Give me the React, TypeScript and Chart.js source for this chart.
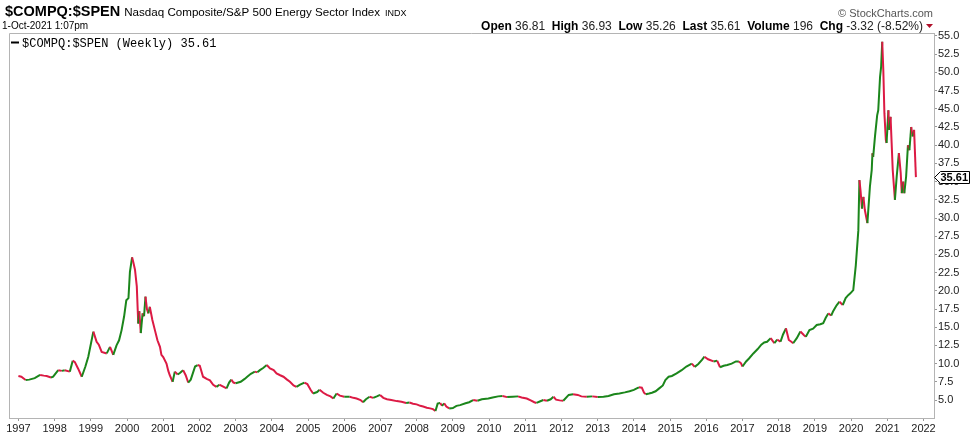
import React, { useEffect, useRef } from "react";
import { Chart, registerables } from "chart.js";

Chart.register(...registerables);

// Weekly close (sampled), decimal year
const dates = [
  1997.0, 1997.08, 1997.2, 1997.3, 1997.45, 1997.6, 1997.7, 1997.78, 1997.9, 1997.96,
  1998.1, 1998.2, 1998.28, 1998.42, 1998.5, 1998.56, 1998.65, 1998.75, 1998.85, 1998.93,
  1999.07, 1999.16, 1999.22, 1999.3, 1999.44, 1999.53, 1999.62, 1999.71, 1999.78, 1999.85, 1999.92, 1999.98,
  2000.04, 2000.08, 2000.14, 2000.18, 2000.22, 2000.27, 2000.31, 2000.34, 2000.38, 2000.43, 2000.47, 2000.51,
  2000.55, 2000.59, 2000.63, 2000.7, 2000.77, 2000.84, 2000.91, 2000.95,
  2001.0, 2001.09, 2001.14, 2001.18, 2001.26, 2001.32, 2001.4, 2001.46, 2001.55, 2001.62, 2001.69, 2001.76, 2001.88, 2001.95,
  2002.01, 2002.1, 2002.2, 2002.29, 2002.38, 2002.47, 2002.55, 2002.63, 2002.75, 2002.82, 2002.88, 2002.94,
  2003.0, 2003.14, 2003.25, 2003.32, 2003.42, 2003.53, 2003.6, 2003.67, 2003.76, 2003.86, 2003.95,
  2004.05, 2004.13, 2004.23, 2004.32, 2004.42, 2004.5, 2004.6, 2004.68, 2004.78, 2004.9, 2004.98,
  2005.07, 2005.14, 2005.25, 2005.32, 2005.42, 2005.52, 2005.62, 2005.7, 2005.79, 2005.88,
  2006.0, 2006.15, 2006.25, 2006.34, 2006.45, 2006.52, 2006.6, 2006.7, 2006.8, 2006.9, 2006.99,
  2007.08, 2007.18, 2007.3, 2007.45, 2007.58, 2007.71, 2007.8, 2007.9,
  2008.0, 2008.1, 2008.18, 2008.28, 2008.37, 2008.45, 2008.52, 2008.58, 2008.65, 2008.7, 2008.76, 2008.82, 2008.9,
  2009.0, 2009.1, 2009.2, 2009.35, 2009.45, 2009.56, 2009.68, 2009.8, 2009.98,
  2010.1, 2010.25, 2010.37, 2010.5, 2010.65, 2010.8, 2010.9,
  2011.04, 2011.15, 2011.25, 2011.31, 2011.4, 2011.5, 2011.6, 2011.7, 2011.78, 2011.85, 2011.95,
  2012.05, 2012.2, 2012.32, 2012.45, 2012.55, 2012.7, 2012.85,
  2013.0, 2013.16, 2013.3, 2013.45, 2013.6, 2013.75, 2013.88,
  2014.0, 2014.08, 2014.14, 2014.22, 2014.28, 2014.33, 2014.42, 2014.5, 2014.6, 2014.7, 2014.8, 2014.87, 2014.96,
  2015.05, 2015.18, 2015.32, 2015.45, 2015.6, 2015.68, 2015.78, 2015.88, 2015.95,
  2016.05, 2016.2, 2016.3, 2016.38, 2016.48, 2016.58, 2016.7, 2016.82, 2016.9, 2016.96,
  2017.0, 2017.1, 2017.18, 2017.3, 2017.42, 2017.52, 2017.6, 2017.68, 2017.78, 2017.88, 2017.96,
  2018.05, 2018.12, 2018.2, 2018.28, 2018.35, 2018.4, 2018.5, 2018.6, 2018.7, 2018.75, 2018.85, 2018.95,
  2019.05, 2019.15, 2019.23, 2019.3, 2019.37, 2019.45, 2019.5, 2019.6, 2019.68, 2019.77, 2019.85, 2019.92, 2019.98,
  2020.06, 2020.13, 2020.2, 2020.23, 2020.26, 2020.3, 2020.34, 2020.38, 2020.45, 2020.52, 2020.57, 2020.59, 2020.61,
  2020.66, 2020.72, 2020.75, 2020.8, 2020.83, 2020.86, 2020.89, 2020.92, 2020.96, 2020.98,
  2021.03, 2021.05, 2021.09, 2021.12, 2021.15, 2021.21, 2021.26, 2021.32, 2021.37, 2021.4, 2021.44, 2021.47,
  2021.52, 2021.57, 2021.61, 2021.66, 2021.7, 2021.74, 2021.79,
];

const values = [
  8.3, 8.2, 7.75, 7.8, 8.0, 8.45, 8.35, 8.3, 8.1, 8.2,
  9.1, 9.0, 9.1, 8.9, 10.4, 10.2, 9.3, 8.2, 9.6, 10.95,
  14.4, 13.0, 12.6, 11.6, 11.4, 12.3, 11.2, 12.5, 13.2, 14.6, 16.5, 18.7,
  19.0, 22.6, 24.6, 23.8, 22.9, 20.6, 15.5, 17.2, 14.2, 16.9, 16.5, 19.2,
  17.5, 16.9, 17.8, 16.0, 14.6, 13.2, 12.3, 11.2,
  10.9, 10.0, 9.0, 8.4, 7.5, 8.9, 8.5, 8.7, 9.1, 8.4, 7.4, 7.8, 9.6, 9.8,
  9.7, 8.2, 7.9, 7.7, 7.1, 6.8, 7.1, 6.9, 6.6, 7.4, 7.8, 7.4,
  7.3, 7.5, 7.9, 8.2, 8.6, 8.9, 8.8, 9.1, 9.4, 9.8, 9.35,
  9.1, 8.65, 8.4, 8.2, 7.8, 7.5, 7.0, 6.8, 7.1, 7.4, 7.2,
  6.4, 5.9, 6.1, 6.4, 6.0, 5.7, 5.5, 5.2, 5.9, 5.6,
  5.45, 5.45, 5.3, 5.2, 5.0, 4.7, 5.1, 5.45, 5.3, 5.5, 5.7,
  5.3, 5.1, 5.0, 4.85, 4.75, 4.6, 4.65, 4.5,
  4.4, 4.2, 4.1, 3.95, 3.85, 3.75, 3.5, 4.5, 4.6, 4.2, 4.55, 4.1, 3.85,
  3.9, 4.2, 4.3, 4.55, 4.7, 5.0, 4.9, 5.1, 5.2,
  5.35, 5.5, 5.55, 5.4, 5.45, 5.5, 5.35,
  5.2, 4.95, 4.7, 4.6, 4.8, 5.0, 4.9, 5.1, 5.45, 5.05, 4.95,
  4.9, 5.7, 5.8, 5.7, 5.5, 5.45, 5.5,
  5.4, 5.45, 5.55, 5.8, 5.9, 6.05, 6.2,
  6.4, 6.6, 6.75, 6.7, 6.0, 5.8, 5.9, 6.0, 6.2, 6.6, 7.0, 7.75, 8.2,
  8.3, 8.65, 9.1, 9.6, 10.0, 9.55, 9.95, 10.5, 10.95,
  10.6, 10.3, 10.4, 9.5, 9.7, 9.8, 10.0, 10.3, 10.3, 10.05,
  9.6, 10.3, 10.7, 11.4, 12.0, 12.6, 12.9, 13.0, 13.5, 12.8, 13.3,
  13.0, 14.0, 14.85, 13.25, 13.0, 12.8, 13.5, 14.4, 13.9, 13.7, 14.6, 14.8,
  15.3, 15.4, 15.55, 16.3, 16.9, 16.6, 17.15, 18.0, 18.5, 18.05, 19.0, 19.4, 19.65,
  20.1, 23.5, 28.3, 35.2, 33.8, 31.3, 32.9, 31.1, 29.3, 34.3, 36.6, 38.9, 38.4,
  41.2, 44.1, 44.8, 49.4, 50.8, 54.2, 50.3, 44.4, 40.7, 40.3,
  44.8, 42.1, 43.9, 40.3, 36.6, 32.5, 35.7, 38.9, 36.2, 33.4, 35.0, 33.4,
  35.7, 40.0, 39.3, 42.5, 41.2, 42.1, 35.61,
];

const yTickValues = [5, 7.5, 10, 12.5, 15, 17.5, 20, 22.5, 25, 27.5, 30, 32.5, 35, 37.5, 40, 42.5, 45, 47.5, 50, 52.5, 55];
const yearTicks = [1997, 1998, 1999, 2000, 2001, 2002, 2003, 2004, 2005, 2006, 2007, 2008, 2009, 2010, 2011, 2012, 2013, 2014, 2015, 2016, 2017, 2018, 2019, 2020, 2021, 2022];

const symbol = "$COMPQ:$SPEN";
const titleName = "Nasdaq Composite/S&P 500 Energy Sector Index";
const exchange = "INDX";
const stamp = "1-Oct-2021 1:07pm";
const quoteLabels = ["Open", "High", "Low", "Last", "Volume", "Chg"];
const quoteValues = ["36.81", "36.93", "35.26", "35.61", "196", "-3.32 (-8.52%)"];
const lastValue = 35.61;
const legendText = "$COMPQ:$SPEN (Weekly) 35.61";
const copyright = "\u00A9 StockCharts.com";

const GREEN = "#1b861b";
const RED = "#dc1a44";
const FRAME = "#b4b4b4";
const SANS = '"Liberation Sans", Arial, sans-serif';
const MONO = '"Liberation Mono", "DejaVu Sans Mono", monospace';

const overlayPlugin = {
  id: "overlay",
  beforeDatasetsDraw(chart: any) {
    const { ctx, chartArea } = chart;
    ctx.save();
    ctx.strokeStyle = FRAME;
    ctx.lineWidth = 1;
    ctx.beginPath();
    ctx.moveTo(chartArea.left + 0.5, chartArea.bottom);
    ctx.lineTo(chartArea.left + 0.5, chartArea.top + 0.5);
    ctx.lineTo(chartArea.right, chartArea.top + 0.5);
    ctx.stroke();
    ctx.restore();
  },
  afterDraw(chart: any) {
    const { ctx, chartArea, scales } = chart;
    ctx.save();
    ctx.textBaseline = "alphabetic";
    ctx.fillStyle = "#000";
    // Title
    ctx.font = `bold 14.5px ${SANS}`;
    ctx.textAlign = "left";
    ctx.fillText(symbol, 5, 16);
    let x = 5 + ctx.measureText(symbol).width + 4;
    ctx.font = `11.6px ${SANS}`;
    ctx.fillText(titleName, x, 16);
    x += ctx.measureText(titleName).width + 5;
    ctx.font = `9px ${SANS}`;
    ctx.fillText(exchange, x, 16);
    // date stamp
    ctx.font = `10px ${SANS}`;
    ctx.fillText(stamp, 2, 29);
    // copyright
    ctx.fillStyle = "#555";
    ctx.font = `11px ${SANS}`;
    ctx.textAlign = "right";
    ctx.fillText(copyright, 933, 17);
    // quote line (right aligned ending near triangle)
    ctx.textAlign = "left";
    const parts: { t: string; bold: boolean }[] = [];
    quoteLabels.forEach((l, i) => {
      parts.push({ t: l + " ", bold: true });
      parts.push({ t: quoteValues[i] + (i < quoteLabels.length - 1 ? "  " : ""), bold: false });
    });
    const qsize = 12;
    let total = 0;
    parts.forEach((p) => {
      ctx.font = `${p.bold ? "bold " : ""}${qsize}px ${SANS}`;
      total += ctx.measureText(p.t).width;
    });
    let qx = 923 - total;
    parts.forEach((p) => {
      ctx.font = `${p.bold ? "bold " : ""}${qsize}px ${SANS}`;
      ctx.fillStyle = p.bold ? "#000" : "#222";
      ctx.fillText(p.t, qx, 29.5);
      qx += ctx.measureText(p.t).width;
    });
    // down triangle
    ctx.fillStyle = "#b0102a";
    ctx.beginPath();
    ctx.moveTo(926, 24);
    ctx.lineTo(933, 24);
    ctx.lineTo(929.5, 28);
    ctx.closePath();
    ctx.fill();

    // legend inside chart
    ctx.strokeStyle = "#000";
    ctx.lineWidth = 2;
    ctx.beginPath();
    ctx.moveTo(chartArea.left + 2, 42.5);
    ctx.lineTo(chartArea.left + 10, 42.5);
    ctx.stroke();
    ctx.fillStyle = "#000";
    ctx.font = `12px ${MONO}`;
    ctx.fillText(legendText, chartArea.left + 13, 47);

    // last value tag
    const y = Math.round(scales.y.getPixelForValue(lastValue)) + 0.5;
    const tx = chartArea.right + 0.5;
    ctx.beginPath();
    ctx.moveTo(tx, y);
    ctx.lineTo(tx + 6, y - 6);
    ctx.lineTo(tx + 35, y - 6);
    ctx.lineTo(tx + 35, y + 6);
    ctx.lineTo(tx + 6, y + 6);
    ctx.closePath();
    ctx.fillStyle = "#fff";
    ctx.fill();
    ctx.lineWidth = 1;
    ctx.strokeStyle = "#000";
    ctx.stroke();
    ctx.fillStyle = "#000";
    ctx.font = `bold 11px ${SANS}`;
    ctx.textBaseline = "middle";
    ctx.fillText(lastValue.toFixed(2), tx + 6, y + 0.5);
    ctx.restore();
  },
};

export default function App() {
  const ref = useRef<HTMLCanvasElement | null>(null);
  useEffect(() => {
    if (!ref.current) return;
    const points = dates.map((d, i) => ({ x: d, y: values[i] }));
    const chart = new Chart(ref.current, {
      type: "line",
      data: {
        datasets: [
          {
            data: points,
            borderWidth: 2,
            pointRadius: 0,
            tension: 0,
            borderColor: RED,
            segment: {
              borderColor: (c: any) => (c.p1.parsed.y >= c.p0.parsed.y ? GREEN : RED),
            },
          },
        ],
      },
      options: {
        animation: false,
        responsive: false,
        devicePixelRatio: 1,
        layout: { padding: { left: 9, top: 33, right: 0, bottom: 0 } },
        plugins: { legend: { display: false }, tooltip: { enabled: false }, title: { display: false } },
        scales: {
          x: {
            type: "linear",
            min: 1996.74,
            max: 2022.29,
            afterBuildTicks: (s: any) => {
              s.ticks = yearTicks.map((v) => ({ value: v }));
            },
            afterFit: (s: any) => {
              s.height = 22;
            },
            ticks: {
              autoSkip: false,
              maxRotation: 0,
              padding: 1,
              color: "#222",
              font: { family: SANS, size: 11 },
              callback: (v: any) => String(v),
            },
            grid: { drawOnChartArea: false, drawTicks: true, tickLength: 3, color: "#999" },
            border: { display: true, color: FRAME },
          },
          y: {
            type: "linear",
            position: "right",
            min: 2.53,
            max: 55.41,
            afterBuildTicks: (s: any) => {
              s.ticks = yTickValues.map((v) => ({ value: v }));
            },
            afterFit: (s: any) => {
              s.width = 40;
            },
            ticks: {
              padding: 1,
              color: "#222",
              font: { family: SANS, size: 11 },
              callback: (v: any) => Number(v).toFixed(1),
            },
            grid: { drawOnChartArea: false, drawTicks: true, tickLength: 3, color: "#999" },
            border: { display: true, color: FRAME },
          },
        },
      },
      plugins: [overlayPlugin],
    });
    return () => chart.destroy();
  }, []);
  return (
    <div style={{ position: "absolute", left: 0, top: 0, width: 974, height: 440, background: "#fff" }}>
      <canvas ref={ref} width={974} height={440} />
    </div>
  );
}
